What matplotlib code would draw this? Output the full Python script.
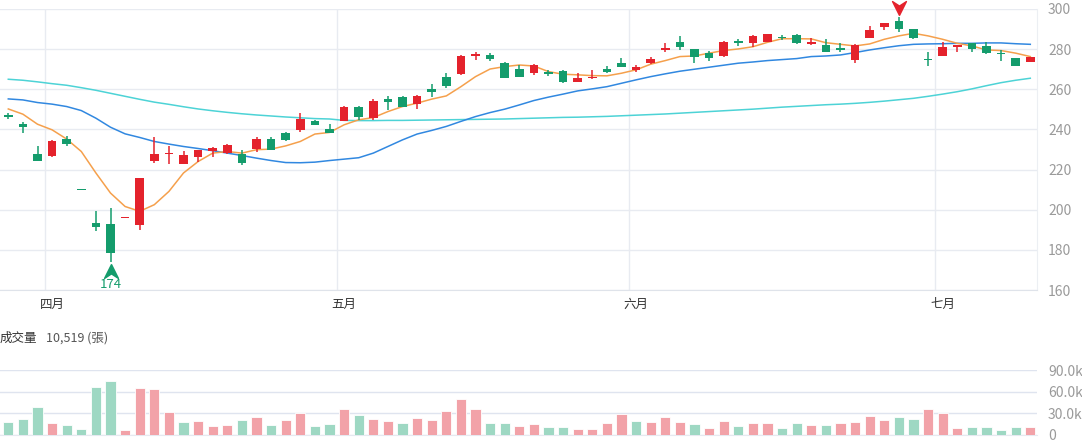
import matplotlib.pyplot as plt

plt.rcParams['font.family'] = ['Noto Sans CJK TC', 'DejaVu Sans']

# daily candles (late March .. early July)
opens = [247.3, 242.6, 228.0, 226.7, 235.2, 210.0, 193.4, 192.7, 196.0, 192.2,
         224.4, 227.7, 222.7, 226.2, 229.2, 228.5, 227.7, 230.2, 235.3, 238.0,
         239.8, 244.1, 240.1, 244.3, 251.2, 245.6, 255.0, 256.1, 252.7, 260.0,
         266.0, 267.8, 276.5, 277.3, 273.0, 270.0, 268.0, 268.7, 269.2, 263.8,
         265.7, 270.1, 273.3, 269.6, 273.1, 279.9, 283.7, 280.1, 278.1, 276.5,
         284.2, 282.9, 283.6, 286.0, 287.0, 282.4, 282.1, 280.6, 274.6, 285.7,
         290.9, 294.0, 289.9, 275.0, 276.8, 280.9, 282.9, 281.7, 278.2, 275.5, 273.5]
closes = [246.2, 241.1, 224.4, 234.3, 232.8, 210.0, 191.2, 178.3, 196.0, 215.8,
          228.0, 228.2, 227.2, 229.9, 230.5, 232.2, 223.4, 235.2, 229.9, 234.5,
          245.1, 242.3, 238.2, 251.2, 246.1, 254.2, 253.9, 251.4, 256.6, 258.4,
          261.8, 276.8, 277.8, 275.0, 265.8, 266.3, 272.3, 267.7, 263.8, 265.7,
          266.3, 268.8, 271.3, 271.1, 275.1, 280.2, 281.2, 276.0, 275.8, 283.7,
          282.9, 286.7, 287.5, 285.5, 282.9, 283.4, 278.8, 279.5, 282.1, 289.6,
          293.0, 289.9, 285.4, 274.4, 280.9, 282.1, 279.9, 278.0, 277.5, 271.8, 276.0]
highs = [248.2, 243.9, 231.8, 234.5, 236.8, 210.0, 199.5, 201.0, 196.0, 216.0,
         236.0, 231.8, 229.4, 230.0, 231.2, 232.5, 230.0, 236.0, 236.0, 238.8,
         248.1, 244.5, 242.8, 251.5, 251.7, 255.0, 256.9, 256.5, 257.0, 262.5,
         268.0, 277.0, 278.5, 278.0, 273.8, 272.3, 272.5, 269.5, 269.7, 268.3,
         269.6, 271.8, 275.8, 272.0, 276.0, 282.9, 286.6, 280.3, 279.0, 284.0,
         284.9, 287.2, 287.6, 287.0, 287.3, 285.4, 284.9, 282.9, 282.5, 291.5,
         293.2, 296.2, 290.0, 278.8, 283.4, 282.3, 283.0, 283.7, 279.6, 275.6, 276.0]
lows = [245.2, 238.2, 224.4, 226.5, 231.8, 210.0, 189.2, 174.0, 196.0, 190.0,
        223.5, 222.9, 222.7, 223.7, 226.5, 228.0, 222.5, 229.0, 229.9, 234.0,
        238.5, 242.0, 238.0, 244.0, 244.8, 244.8, 249.8, 251.0, 250.1, 256.2,
        260.8, 267.0, 274.6, 274.0, 265.8, 266.0, 267.2, 266.7, 263.0, 263.8,
        265.0, 268.0, 271.0, 268.8, 272.6, 278.8, 279.5, 273.3, 274.3, 276.0,
        281.4, 281.2, 283.4, 284.5, 282.5, 282.0, 278.5, 278.8, 273.0, 285.5,
        289.6, 288.6, 285.0, 271.5, 276.5, 278.8, 278.8, 277.8, 274.0, 271.8, 273.5]

# moving averages as drawn on the chart
ma5 = [250.2, 247.6, 242.6, 239.8, 235.2, 229.0, 218.3, 208.3, 201.6, 199.2,
       202.5, 209.1, 218.3, 224.0, 228.2, 229.0, 228.2, 229.9, 230.2, 231.8,
       234.0, 237.7, 238.5, 242.3, 244.8, 245.9, 248.9, 251.4, 253.1, 255.1,
       256.7, 261.3, 266.3, 270.1, 271.3, 272.1, 271.6, 268.8, 267.5, 267.2,
       266.8, 266.7, 268.0, 269.7, 272.5, 274.3, 276.3, 276.6, 278.0, 279.3,
       280.1, 281.2, 283.4, 285.2, 285.2, 285.1, 283.2, 282.4, 281.6, 282.6,
       284.9, 286.6, 287.9, 286.6, 284.9, 282.9, 281.6, 279.6, 279.3, 278.0, 276.3]
ma20 = [255.2, 254.7, 253.4, 252.6, 251.4, 249.4, 245.6, 241.1, 237.8, 236.0,
        234.0, 232.7, 231.5, 230.5, 229.4, 228.2, 227.0, 225.7, 224.5, 223.5,
        223.4, 223.7, 224.5, 225.2, 225.9, 228.2, 231.5, 234.8, 237.7, 239.5,
        241.5, 244.0, 246.4, 248.4, 250.1, 252.2, 254.4, 256.1, 257.6, 259.2,
        260.2, 261.3, 263.0, 264.7, 266.3, 267.7, 269.0, 270.0, 271.0, 272.0,
        273.0, 273.6, 274.3, 274.8, 275.3, 276.3, 276.6, 277.1, 278.3, 279.6,
        280.7, 281.7, 282.4, 282.6, 282.7, 282.9, 282.9, 283.1, 283.1, 282.7, 282.4]
ma60 = [265.0, 264.5, 263.7, 262.8, 262.0, 260.8, 259.5, 258.0, 256.5, 255.0,
        253.6, 252.5, 251.3, 250.2, 249.3, 248.5, 247.8, 247.2, 246.7, 246.2,
        245.8, 245.4, 245.2, 244.5, 244.4, 244.4, 244.5, 244.5, 244.6, 244.7,
        244.8, 244.9, 245.0, 245.1, 245.2, 245.4, 245.6, 245.8, 246.0, 246.1,
        246.3, 246.5, 246.8, 247.1, 247.4, 247.7, 248.1, 248.5, 248.9, 249.3,
        249.7, 250.1, 250.6, 251.1, 251.5, 251.9, 252.3, 252.6, 253.0, 253.5,
        254.1, 254.8, 255.5, 256.5, 257.6, 258.8, 260.2, 261.8, 263.3, 264.5, 265.5]

# volume in thousands of lots, colour as shown (r = up, g = down)
volumes = [18.5, 22.5, 39.3, 17.2, 13.7, 8.8, 67.5, 74.5, 6.6, 65.7,
           64.4, 32.6, 18.1, 19.0, 13.2, 14.1, 20.3, 25.6, 14.6, 20.7,
           30.9, 13.2, 15.0, 36.2, 27.8, 22.5, 19.4, 17.2, 23.4, 20.3,
           33.1, 50.7, 36.2, 17.2, 17.2, 11.9, 15.0, 11.0, 11.0, 8.8,
           8.8, 16.8, 29.1, 19.9, 18.5, 24.7, 17.6, 15.4, 9.7, 19.0,
           13.2, 16.3, 17.2, 9.7, 16.8, 13.7, 14.1, 16.8, 17.6, 26.9,
           20.3, 25.6, 22.9, 35.7, 30.4, 9.7, 11.0, 11.0, 7.1, 11.0, 10.519]
vol_dir = list("gggrggggrrrrgrrrgrgrrggrgrrgrrrrrggrr"
               "ggrrrrgrrrgrrgrrggrgrrrrggrrrggggr")

month_start = [3, 23, 43, 64]
month_labels = ["四月", "五月", "六月", "七月"]
price_ticks = [160, 180, 200, 220, 240, 260, 280, 300]
vol_ticks = [0, 30, 60, 90]
vol_tick_labels = ["0", "30.0k", "60.0k", "90.0k"]
last_volume_text = "10,519 (張)"

RED = "#e4222c"
GREEN = "#149c6c"
VRED = "#f2a2a8"
VGREEN = "#9ed8c3"
GRID = "#e8ebf1"

W, H = 1082, 443
fig = plt.figure(figsize=(W / 100, H / 100), dpi=100)
ax = fig.add_axes([0, 1 - 290 / H, 1037 / W, 281 / H])
axv = fig.add_axes([0, 1 - 435 / H, 1037 / W, 65 / H])

n = len(closes)
xs = list(range(n))

# candles
for i in xs:
    o, c = opens[i], closes[i]
    if c > o:
        col = RED
    elif c < o:
        col = GREEN
    else:
        col = RED if vol_dir[i] == "r" else GREEN
    ax.vlines(i, lows[i], highs[i], color=col, lw=1.1, zorder=3)
    body = max(abs(c - o), 0.7)
    ax.bar(i, body, bottom=min(o, c) - (body - abs(c - o)) / 2, width=0.58,
           color=col, lw=0, zorder=4)

ax.plot(xs, ma60, color="#4dd3d6", lw=1.1, zorder=2)
ax.plot(xs, ma20, color="#3188e0", lw=1.1, zorder=2)
ax.plot(xs, ma5, color="#f5a04c", lw=1.1, zorder=2)

# min / max markers
arrow_up = [(0, 1), (1, -1), (0, -0.35), (-1, -1), (0, 1)]
arrow_dn = [(0, -1), (1, 1), (0, 0.35), (-1, 1), (0, -1)]
i_lo = lows.index(min(lows))
i_hi = highs.index(max(highs))
ax.plot(i_lo, lows[i_lo] - 4.3, marker=arrow_up, ms=10, color=GREEN, lw=0,
        clip_on=False, zorder=5)
ax.text(i_lo, lows[i_lo] - 11.3, f"{min(lows):.0f}", color=GREEN, fontsize=9.5,
        ha="center", va="center")
ax.plot(i_hi, highs[i_hi] + 4.1, marker=arrow_dn, ms=10, color=RED, lw=0,
        clip_on=False, zorder=5)

ax.set_xlim(-8.3 / 14.6, (1037 - 8.3) / 14.6)
ax.set_ylim(160, 300)
ax.set_yticks(price_ticks)
ax.yaxis.tick_right()
ax.tick_params(axis="y", length=0, pad=8, labelcolor="#9a9a9a", labelsize=10)
ax.set_xticks(month_start, month_labels)
ax.tick_params(axis="x", length=0, pad=6, labelcolor="#333333", labelsize=9)
ax.grid(axis="y", color=GRID, lw=1)
for m in month_start:
    ax.axvline(m - 0.5, color=GRID, lw=1, zorder=0)
for s in ["top", "left"]:
    ax.spines[s].set_visible(False)
ax.spines["bottom"].set_color("#dfe3ea")
ax.spines["right"].set_color("#eceff3")
ax.set_axisbelow(True)

# volume
vcols = [VRED if d == "r" else VGREEN for d in vol_dir]
axv.bar(xs, volumes, width=0.7, color=vcols, edgecolor="white", lw=0.6, zorder=3)
axv.set_xlim(ax.get_xlim())
axv.set_ylim(0, 90.5)
axv.set_yticks(vol_ticks, vol_tick_labels)
axv.yaxis.tick_right()
axv.tick_params(axis="y", length=0, pad=8, labelcolor="#9a9a9a", labelsize=10)
axv.set_xticks([])
axv.grid(axis="y", color="#dfe4ef", lw=1)
for s in ["top", "left", "right"]:
    axv.spines[s].set_visible(False)
axv.spines["bottom"].set_color("#e6e9f0")
axv.set_axisbelow(True)

fig.text(0.0, 1 - 338 / H, "成交量", fontsize=9, color="#333333", va="center")
fig.text(46 / W, 1 - 338 / H, last_volume_text, fontsize=9, color="#555555", va="center")

fig.savefig("out.png", dpi=100, facecolor="white")
